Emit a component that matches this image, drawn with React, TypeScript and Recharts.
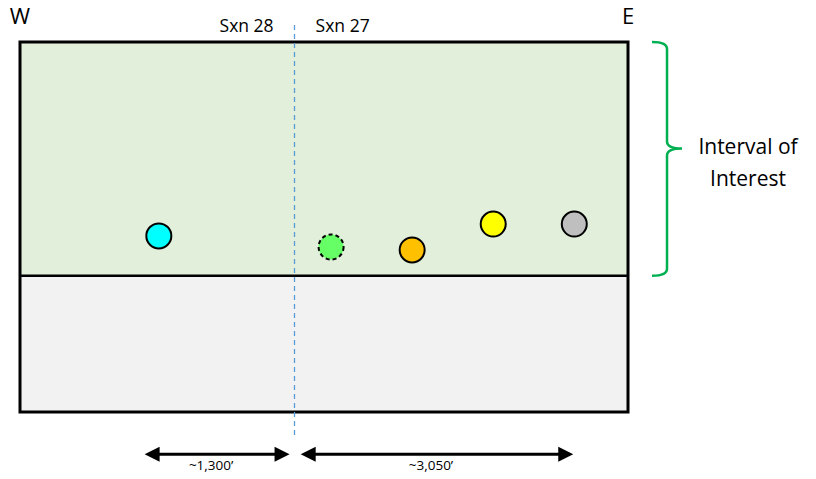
import React from "react";
import {
  ScatterChart,
  Scatter,
  XAxis,
  YAxis,
  ReferenceArea,
  ReferenceLine,
} from "recharts";

const FONT = "'Open Sans', 'Noto Sans', sans-serif";

// wells: distance from west edge of the panel (ft) and position in the box (0 = top, 100 = base)
const wellFeet = [1370, 3070, 3870, 4670, 5470];
const wellDepth = [52.4, 55.4, 56.2, 49.2, 49.2];
const wellColors = ["#00ffff", "#66ff66", "#ffc000", "#ffff00", "#bfbfbf"];
const wellDashed = [false, true, false, false, false];

const sideLabels = ["W", "E"];
const sectionBoundary = 2700;
const sectionLabels = ["Sxn 28", "Sxn 27"];
const intervalBase = 63.2;
const intervalLabel = ["Interval of", "Interest"];

// lateral spans shown under the panel
const spanStart = [1230, 2770];
const spanEnd = [2660, 5460];
const spanLabels = ["~1,300\u2019", "~3,050\u2019"];

const X_MAX = 6000;
const BRACE_X = 6385;

const wells = wellFeet.map((x, i) => ({
  x,
  depth: wellDepth[i],
  color: wellColors[i],
  dashed: wellDashed[i],
}));

const WellDot = (props: any) => {
  const { cx, cy, payload } = props;
  return (
    <circle
      cx={cx}
      cy={cy}
      r={12.5}
      fill={payload.color}
      stroke="#000"
      strokeWidth={2}
      strokeDasharray={payload.dashed ? "4 3" : undefined}
    />
  );
};

const Frame = (props: any) => {
  const { x, y, width, height } = props;
  return (
    <g>
      <rect x={x} y={y} width={width} height={height} fill="none" stroke="#000" strokeWidth={3} />
      <text x={x} y={y - 18} textAnchor="middle" fontSize={22} fontFamily={FONT} fill="#000">
        {sideLabels[0]}
      </text>
      <text x={x + width} y={y - 18} textAnchor="middle" fontSize={22} fontFamily={FONT} fill="#000">
        {sideLabels[1]}
      </text>
    </g>
  );
};

const Boundary = (props: any) => {
  const { x1, y1, x2, y2 } = props;
  const px = Math.round(x1) + 0.5;
  return (
    <g>
      <line x1={px} y1={y1} x2={px} y2={y2} stroke="#5b9bd5" strokeWidth={1.3} strokeDasharray="5 4" />
      <text x={x1 - 20} y={32} textAnchor="end" fontSize={17.5} fontFamily={FONT} fill="#000">
        {sectionLabels[0]}
      </text>
      <text x={x1 + 22} y={32} textAnchor="start" fontSize={17.5} fontFamily={FONT} fill="#000">
        {sectionLabels[1]}
      </text>
    </g>
  );
};

const makeArrow = (label: string) => (props: any) => {
  const { x1, y1, x2 } = props;
  const head = 15;
  const half = 7.5;
  const left = Math.min(x1, x2);
  const right = Math.max(x1, x2);
  return (
    <g>
      <line x1={left + head - 1} y1={y1} x2={right - head + 1} y2={y1} stroke="#000" strokeWidth={3} />
      <polygon points={`${left},${y1} ${left + head},${y1 - half} ${left + head},${y1 + half}`} fill="#000" />
      <polygon points={`${right},${y1} ${right - head},${y1 - half} ${right - head},${y1 + half}`} fill="#000" />
      <text x={(left + right) / 2 - 6} y={y1 + 16} textAnchor="middle" fontSize={13.5} fontFamily={FONT} fill="#000">
        {label}
      </text>
    </g>
  );
};

const Brace = (props: any) => {
  const { x1, y1, y2 } = props;
  const s = x1;
  const top = Math.min(y1, y2);
  const bot = Math.max(y1, y2);
  const mid = top + (bot - top) * 0.455;
  const w = 15;
  const r = 7;
  const d = [
    `M ${s - w} ${top}`,
    `Q ${s} ${top} ${s} ${top + r}`,
    `L ${s} ${mid - r}`,
    `Q ${s} ${mid} ${s + w} ${mid}`,
    `Q ${s} ${mid} ${s} ${mid + r}`,
    `L ${s} ${bot - r}`,
    `Q ${s} ${bot} ${s - w} ${bot}`,
  ].join(" ");
  return (
    <g>
      <path d={d} fill="none" stroke="#00b050" strokeWidth={2.5} />
      <text x={s + 81} y={mid + 6} textAnchor="middle" fontSize={21} fontFamily={FONT} fill="#000">
        {intervalLabel[0]}
      </text>
      <text x={s + 81} y={mid + 38} textAnchor="middle" fontSize={21} fontFamily={FONT} fill="#000">
        {intervalLabel[1]}
      </text>
    </g>
  );
};

export default function App() {
  return (
    <div style={{ position: "absolute", left: 0, top: 0, width: 816, height: 479, background: "#fff" }}>
      <ScatterChart width={816} height={479} margin={{ top: 42, right: 188, bottom: 67, left: 20 }}>
        <XAxis type="number" dataKey="x" domain={[0, X_MAX]} hide allowDataOverflow />
        <YAxis type="number" dataKey="depth" domain={[0, 100]} reversed hide allowDataOverflow />
        <ReferenceArea x1={0} x2={X_MAX} y1={0} y2={intervalBase} fill="#e2efda" fillOpacity={1} stroke="none" />
        <ReferenceArea x1={0} x2={X_MAX} y1={intervalBase} y2={100} fill="#f2f2f2" fillOpacity={1} stroke="none" />
        <ReferenceLine y={intervalBase} stroke="#000" strokeWidth={2.5} />
        <ReferenceArea x1={0} x2={X_MAX} y1={0} y2={100} shape={Frame} ifOverflow="visible" />
        <ReferenceLine
          segment={[
            { x: sectionBoundary, y: -4.6 },
            { x: sectionBoundary, y: 106.5 },
          ]}
          ifOverflow="visible"
          shape={Boundary}
        />
        {spanStart.map((s, i) => (
          <ReferenceLine
            key={spanLabels[i]}
            segment={[
              { x: s, y: 111.4 },
              { x: spanEnd[i], y: 111.4 },
            ]}
            ifOverflow="visible"
            shape={makeArrow(spanLabels[i])}
          />
        ))}
        <ReferenceLine
          segment={[
            { x: BRACE_X, y: 0 },
            { x: BRACE_X, y: intervalBase },
          ]}
          ifOverflow="visible"
          shape={Brace}
        />
        <Scatter data={wells} isAnimationActive={false} shape={WellDot} />
      </ScatterChart>
    </div>
  );
}
